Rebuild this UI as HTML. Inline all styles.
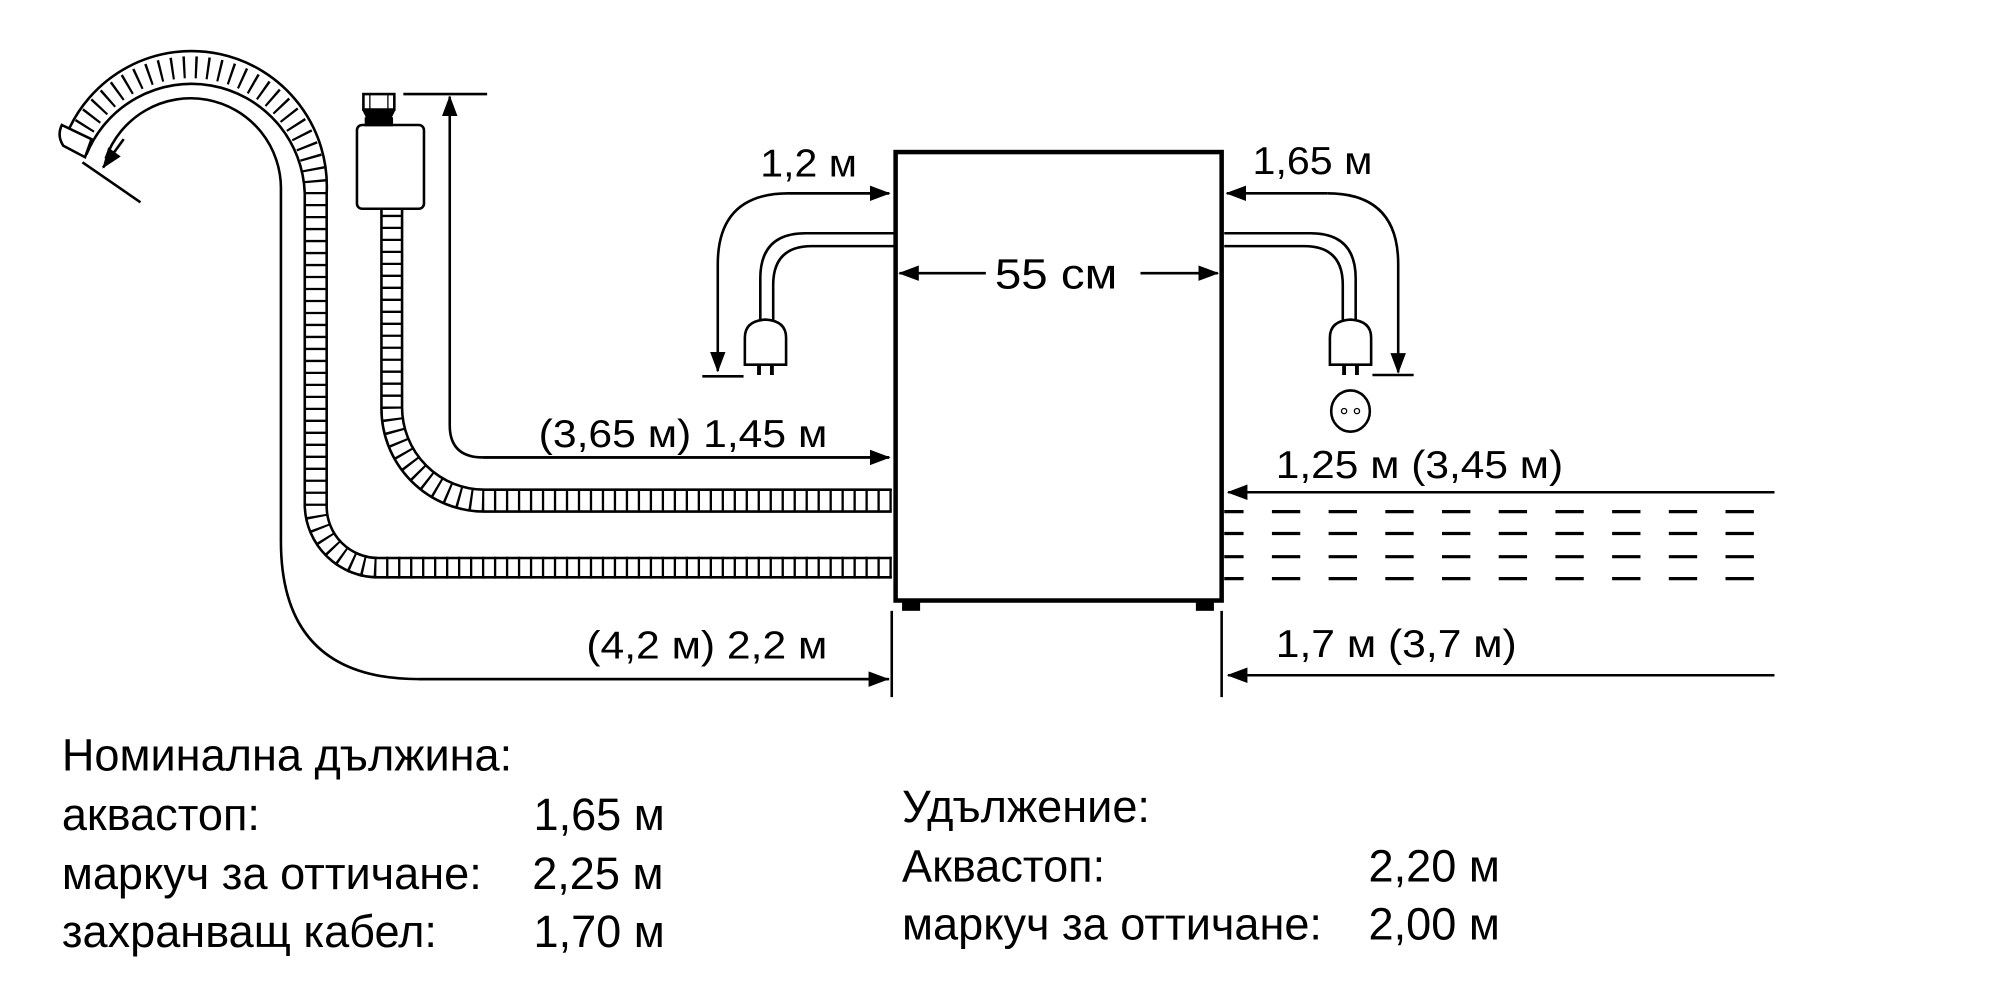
<!DOCTYPE html>
<html><head><meta charset="utf-8"><style>
html,body{margin:0;padding:0;background:#fff;}
svg{display:block;}
text{font-family:"Liberation Sans",Arial,sans-serif;fill:#000;}
</style></head><body>
<svg width="2000" height="1000" viewBox="0 0 1552 776" xmlns="http://www.w3.org/2000/svg">
<defs>
<marker id="ah" viewBox="0 0 16 12" refX="15" refY="6" markerWidth="16" markerHeight="12" markerUnits="userSpaceOnUse" orient="auto">
<path d="M0,0 L16,6 L0,12 Z" fill="#000"/></marker>
</defs>
<g fill="none" stroke="#000" stroke-width="2">
<rect x="695" y="118" width="253" height="348" stroke-width="3.5"/>
<rect x="700" y="466" width="14" height="8" fill="#000" stroke="none"/>
<rect x="928" y="466" width="14" height="8" fill="#000" stroke="none"/>
<line x1="765" y1="212" x2="698" y2="212" marker-end="url(#ah)"/>
<line x1="885" y1="212" x2="945" y2="212" marker-end="url(#ah)"/>

<path d="M694,181 H625 Q590,181 590,216 V250"/>
<path d="M694,191 H630 Q600,191 600,221 V250"/>
<path d="M578,283 V262 Q578,249 594,248 Q610,249 610,262 V283 Z" fill="#fff"/>
<line x1="589" y1="283" x2="589" y2="291" stroke-width="3"/>
<line x1="599" y1="283" x2="599" y2="291" stroke-width="3"/>
<path d="M690,150 H612 Q557,150 557,205 V288" marker-end="url(#ah)"/>
<path d="M612,150 H690" marker-end="url(#ah)"/>
<line x1="545" y1="292" x2="577" y2="292"/>

<path d="M950,181 H1017 Q1052,181 1052,216 V250"/>
<path d="M950,191 H1012 Q1042,191 1042,221 V250"/>
<path d="M1032,283 V262 Q1032,249 1048,248 Q1064,249 1064,262 V283 Z" fill="#fff"/>
<line x1="1043" y1="283" x2="1043" y2="291" stroke-width="3"/>
<line x1="1053" y1="283" x2="1053" y2="291" stroke-width="3"/>
<path d="M1030,150 H952" marker-end="url(#ah)"/>
<path d="M1030,150 Q1085,150 1085,205 V289" marker-end="url(#ah)"/>
<line x1="1065" y1="291" x2="1097" y2="291"/>
<ellipse cx="1048" cy="319" rx="15" ry="16"/>
<circle cx="1043" cy="319" r="2" stroke-width="1"/>
<circle cx="1053" cy="319" r="2" stroke-width="1"/>

<line x1="1377" y1="382" x2="953" y2="382" marker-end="url(#ah)"/>
<g stroke-width="2.5" stroke-dasharray="22 22" stroke-dashoffset="7">
<line x1="950" y1="397" x2="1377" y2="397"/>
<line x1="950" y1="414" x2="1377" y2="414"/>
<line x1="950" y1="432" x2="1377" y2="432"/>
<line x1="950" y1="449" x2="1377" y2="449"/>
</g>
<line x1="948" y1="474" x2="948" y2="541"/>
<line x1="1377" y1="524" x2="953" y2="524" marker-end="url(#ah)"/>

<line x1="692" y1="474" x2="692" y2="541"/>
<path d="M690,527 H325 Q218,527 218,420 V148 A70,70 0 0 0 82,123" stroke-width="2"/>
<path d="M325,527 H689" marker-end="url(#ah)"/>
<path d="M96,108 L80,130" marker-end="url(#ah)"/>
<line x1="64" y1="126" x2="109" y2="157"/>

<path d="M692,440.5 H293.5 A48,48 0 0 1 245,392 V150 A97,97 0 0 0 58,113" stroke-width="17" stroke-dasharray="1.8 7.5" />
<path d="M692,433 H293.5 A40,40 0 0 1 253.5,393 V150 A105,105 0 0 0 51,106"/>
<path d="M692,448 H293.5 A57,57 0 0 1 236.5,393 V150 A88,88 0 0 0 67,120"/>
<path d="M48,97 L71,108 L66,122 L49,113 Q44,105 48,97 Z" fill="#fff"/>

<path d="M692,388 H376 A72,72 0 0 1 304,316 V160" stroke-width="17" stroke-dasharray="1.8 7.5"/>
<path d="M692,380 H376 A64,64 0 0 1 312,316 V160"/>
<path d="M692,397 H376 A80,80 0 0 1 296,316 V160"/>
<rect x="277" y="97" width="52" height="65" rx="4" fill="#fff"/>
<rect x="282" y="73" width="24" height="12" fill="#fff"/>
<line x1="287" y1="73" x2="287" y2="85" stroke-width="1"/>
<line x1="301" y1="73" x2="301" y2="85" stroke-width="1"/>
<path d="M282,85 L286,93 L302,93 L306,85" fill="#000"/>
<rect x="284" y="92" width="20" height="5" fill="#000"/>
<line x1="313" y1="73" x2="378" y2="73"/>
<path d="M690,355 H375 Q349,355 349,330 V75" marker-end="url(#ah)"/>
<path d="M375,355 H690" marker-end="url(#ah)"/>
</g>

<g font-size="30">
<text x="772" y="224" font-size="33" textLength="95" lengthAdjust="spacingAndGlyphs">55 см</text>
<text x="590" y="137" textLength="75" lengthAdjust="spacingAndGlyphs">1,2 м</text>
<text x="972" y="135" textLength="93" lengthAdjust="spacingAndGlyphs">1,65 м</text>
<text x="418" y="347" textLength="224" lengthAdjust="spacingAndGlyphs">(3,65 м) 1,45 м</text>
<text x="990" y="371" textLength="223" lengthAdjust="spacingAndGlyphs">1,25 м (3,45 м)</text>
<text x="455" y="511" textLength="187" lengthAdjust="spacingAndGlyphs">(4,2 м) 2,2 м</text>
<text x="990" y="510" textLength="187" lengthAdjust="spacingAndGlyphs">1,7 м (3,7 м)</text>
</g>
<g font-size="35">
<text x="48" y="598">Номинална дължина:</text>
<text x="48" y="644">аквастоп:</text>
<text x="414" y="644">1,65 м</text>
<text x="48" y="690">маркуч за оттичане:</text>
<text x="413" y="690">2,25 м</text>
<text x="48" y="735">захранващ кабел:</text>
<text x="414" y="735">1,70 м</text>
<text x="700" y="638">Удължение:</text>
<text x="700" y="684">Аквастоп:</text>
<text x="1062" y="684">2,20 м</text>
<text x="700" y="729">маркуч за оттичане:</text>
<text x="1062" y="729">2,00 м</text>
</g>
</svg>
</body></html>
